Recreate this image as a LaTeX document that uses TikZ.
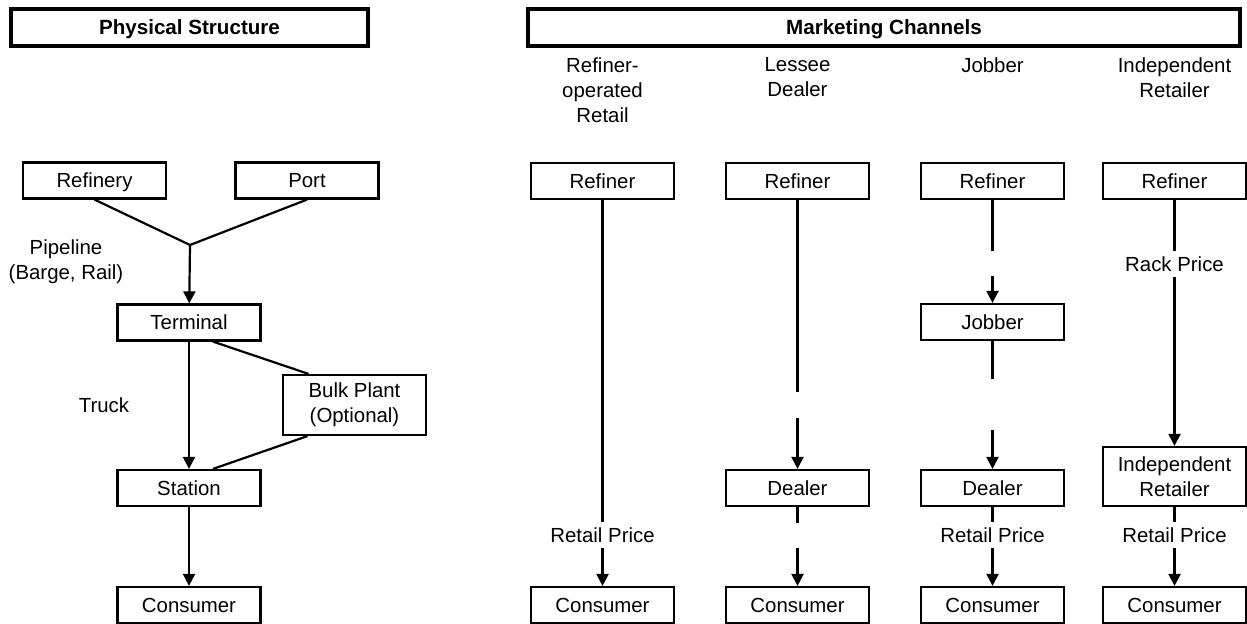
\documentclass[tikz,border=0pt]{standalone}
\usepackage{fontspec}
\setmainfont{Liberation Sans}
\usetikzlibrary{arrows.meta}
\begin{document}
\begin{tikzpicture}[x=0.5pt,y=-0.5pt,
  every node/.style={font=\fontsize{10.2}{12.5}\selectfont},
  box/.style={draw,line width=1.1pt,minimum width=71.5pt,minimum height=18pt,inner sep=0pt,align=center,text height=8.3pt,text depth=1pt},
  hbox/.style={draw,line width=1.6pt,minimum height=18.5pt,inner sep=0pt,text height=8.3pt,text depth=1pt,font=\fontsize{10.3}{12.5}\selectfont\bfseries},
  lbl/.style={inner xsep=1pt,inner ysep=2.5pt,align=center},
  ln/.style={line width=1.1pt},
  arr/.style={line width=1.1pt,-{Triangle[length=6pt,width=6pt]}}]
\useasboundingbox (0,0) rectangle (1247,624);
% headers
\node[hbox,minimum width=178.5pt] (hphys) at (189.5,27.5) {Physical Structure};
\node[hbox,minimum width=356pt] (hmkt) at (884,27.5) {Marketing Channels};
% physical structure
\node[box] (refy) at (94.5,180.5) {Refinery};
\node[box] (port) at (307,180.5) {Port};
\coordinate (jn) at (190,245);
\node[box] (term) at (189,322.5) {Terminal};
\node[box,minimum height=30pt,text height=,text depth=] (bulk) at (354.5,405) {Bulk Plant\\(Optional)};
\node[box] (stat) at (189,488) {Station};
\node[box] (pcons) at (189,605) {Consumer};
\node[lbl] (pipe) at (66,262) {Pipeline\\(Barge, Rail)};
\node[lbl] (truck) at (104,405) {Truck};
\draw[ln] (refy.south) -- (jn) -- (port.south);
\draw[arr] (jn) -- (term);
\draw[arr] (term) -- (stat);
\draw[ln] ([xshift=12pt]term.south) -- ([xshift=-23pt]bulk.north);
\draw[ln] ([xshift=-23.5pt]bulk.south) -- ([xshift=12pt]stat.north);
\draw[arr] (stat) -- (pcons);
% column titles
\node[lbl] (t1) at (602.5,90) {Refiner-\\operated\\Retail};
\node[lbl] (t2) at (797.5,77.5) {Lessee\\Dealer};
\node[lbl] (t3) at (992.5,65) {Jobber};
\node[lbl] (t4) at (1174.5,77.5) {Independent\\Retailer};
% column 1
\node[box] (r1) at (602.5,181) {Refiner};
\node[box] (c1) at (602.5,605) {Consumer};
\node[lbl] (rp1) at (602.5,535) {Retail Price};
\draw[ln] (r1) -- (rp1);
\draw[arr] (rp1) -- (c1);
% column 2
\node[box] (r2) at (797.5,181) {Refiner};
\node[box] (d2) at (797.5,488) {Dealer};
\node[box] (c2) at (797.5,605) {Consumer};
\coordinate (g2a) at (797.5,392);
\coordinate (g2b) at (797.5,418);
\coordinate (g2c) at (797.5,523);
\coordinate (g2d) at (797.5,548);
\draw[ln] (r2) -- (g2a);
\draw[arr] (g2b) -- (d2);
\draw[ln] (d2) -- (g2c);
\draw[arr] (g2d) -- (c2);
% column 3
\node[box] (r3) at (992.5,181) {Refiner};
\node[box] (j3) at (992.5,322) {Jobber};
\node[box] (d3) at (992.5,488) {Dealer};
\node[box] (c3) at (992.5,605) {Consumer};
\node[lbl] (rp3) at (992.5,535) {Retail Price};
\coordinate (g3a) at (992.5,251);
\coordinate (g3b) at (992.5,276);
\coordinate (g3c) at (992.5,379);
\coordinate (g3d) at (992.5,430);
\draw[ln] (r3) -- (g3a);
\draw[arr] (g3b) -- (j3);
\draw[ln] (j3) -- (g3c);
\draw[arr] (g3d) -- (d3);
\draw[ln] (d3) -- (rp3);
\draw[arr] (rp3) -- (c3);
% column 4
\node[box] (r4) at (1174.5,181) {Refiner};
\node[lbl] (rk4) at (1174.5,264) {Rack Price};
\node[box,minimum height=29.5pt,text height=,text depth=] (i4) at (1174.5,476.5) {Independent\\Retailer};
\node[lbl] (rp4) at (1174.5,535) {Retail Price};
\node[box] (c4) at (1174.5,605) {Consumer};
\draw[ln] (r4) -- (rk4);
\draw[arr] (rk4) -- (i4);
\draw[ln] (i4) -- (rp4);
\draw[arr] (rp4) -- (c4);
\end{tikzpicture}
\end{document}
